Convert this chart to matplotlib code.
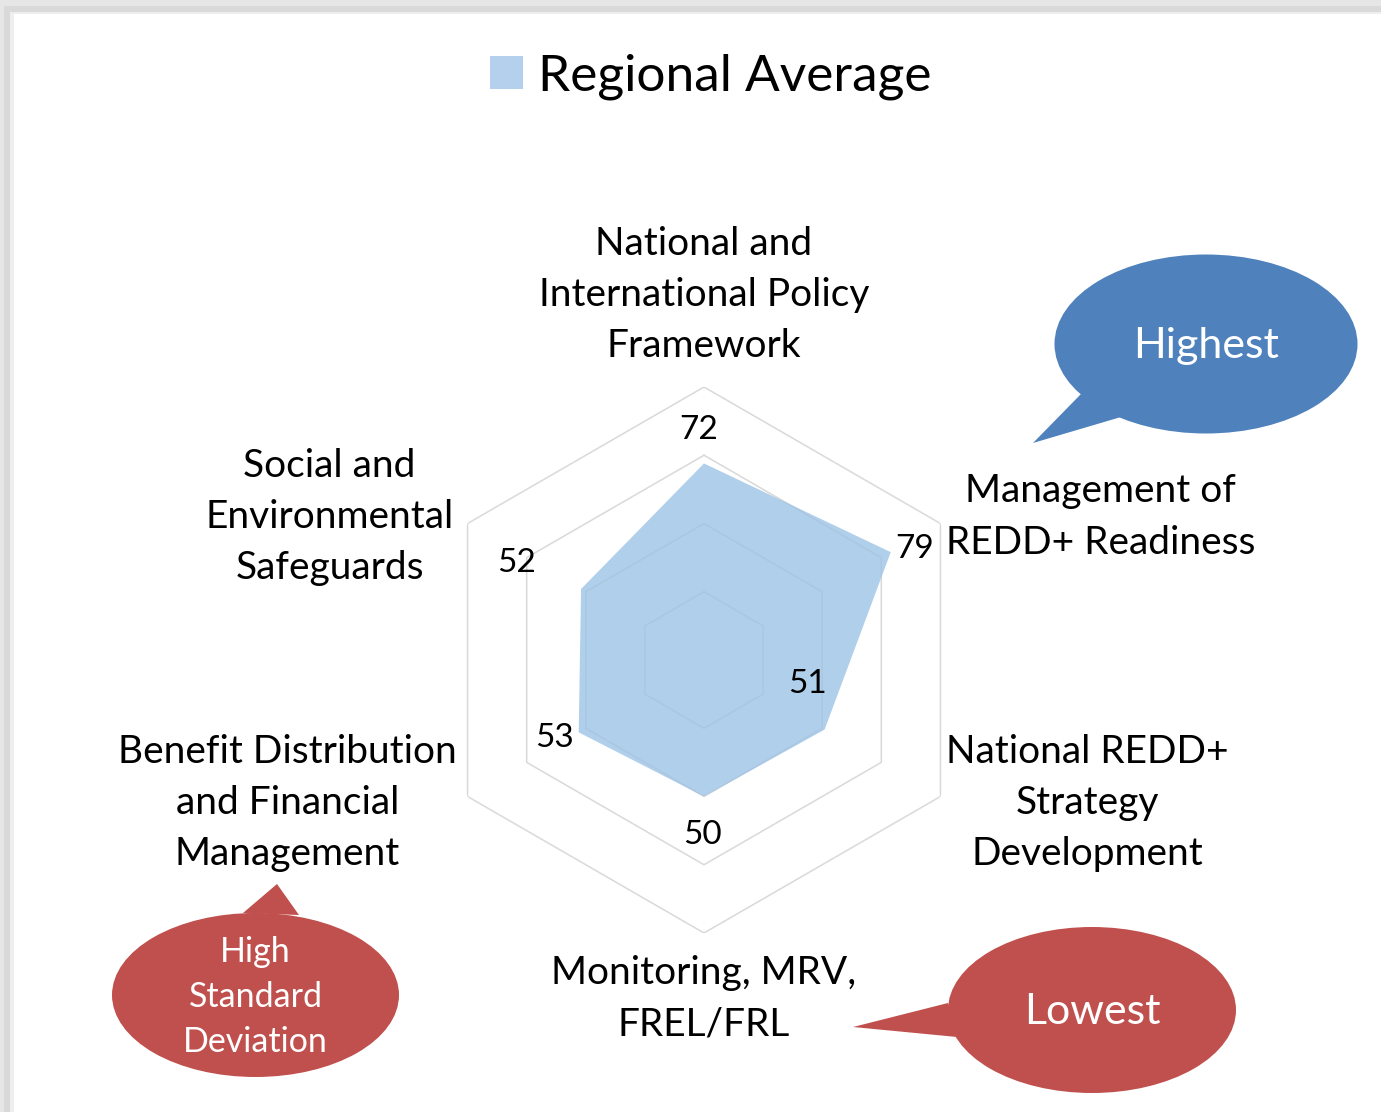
import numpy as np
import matplotlib
matplotlib.use("Agg")
import matplotlib.pyplot as plt
from matplotlib.patches import Ellipse, Polygon, Rectangle, Patch

# ---------------- data ----------------
categories = [
    "National and\nInternational Policy\nFramework",
    "Management of\nREDD+ Readiness",
    "National REDD+\nStrategy\nDevelopment",
    "Monitoring, MRV,\nFREL/FRL",
    "Benefit Distribution\nand Financial\nManagement",
    "Social and\nEnvironmental\nSafeguards",
]
regional_average = [72, 79, 51, 50, 53, 52]
grid_levels = [25, 50, 75, 100]
series_name = "Regional Average"
callout_texts = ["Highest", "High\nStandard\nDeviation", "Lowest"]

# ---------------- layout / style ----------------
plt.rcParams["font.family"] = ["Lato", "DejaVu Sans"]
W, H = 1381, 1112
fig = plt.figure(figsize=(W / 100, H / 100), dpi=100)

# background frame (screenshot border)
bg = fig.add_axes([0, 0, 1, 1], zorder=0)
bg.set_xlim(0, W)
bg.set_ylim(H, 0)
bg.axis("off")
bg.add_patch(Rectangle((0, 0), W, H, color="#e6e6e6", lw=0))
bg.add_patch(Rectangle((4, 6), W, H, color="#d9d9d9", lw=0))
bg.add_patch(Rectangle((10, 12), W, H, color="#eeeeee", lw=0))
bg.add_patch(Rectangle((14, 14), W, H, color="white", lw=0))

# radar axes
cx, cy, R = 704, 660, 273
ax = fig.add_axes([(cx - R) / W, (H - cy - R) / H, 2 * R / W, 2 * R / H],
                  projection="polar", zorder=1)
ax.set_theta_offset(np.pi / 2)
ax.set_theta_direction(-1)
ax.set_ylim(0, 100)
ax.grid(False)
ax.set_xticks([])
ax.set_yticks([])
ax.spines["polar"].set_visible(False)
ax.patch.set_alpha(0)

n = len(regional_average)
theta = np.linspace(0, 2 * np.pi, n, endpoint=False)
theta_c = np.append(theta, theta[0])
for lv in grid_levels:
    ax.plot(theta_c, [lv] * (n + 1), color="#d9d9d9", lw=1.1, zorder=1)

vals = regional_average + regional_average[:1]
ax.fill(theta_c, vals, color="#9DC3E6", alpha=0.8, lw=0, zorder=2)

# data labels
label_offsets = [(-5, 33), (24, 3), (-17, 46), (-2, -39), (-24, -6), (-64, 26)]
for t, v, off in zip(theta, regional_average, label_offsets):
    ax.annotate(str(v), xy=(t, v), xytext=off, textcoords="offset pixels",
                ha="center", va="center", fontsize=24, color="black",
                annotation_clip=False, zorder=5)

# category labels
cat_offsets = [(0, 92), (160, 6.5), (147, -6.5), (0, -66), (-180, -6.5), (-138, 6.5)]
for t, cat, off in zip(theta, categories, cat_offsets):
    ax.annotate(cat, xy=(t, 100), xytext=off, textcoords="offset pixels",
                ha="center", va="center", fontsize=28, color="black",
                linespacing=1.52, annotation_clip=False, zorder=5)

# legend
fig.legend(handles=[Patch(facecolor="#B4D0EC", edgecolor="none", label=series_name)],
           loc="center", bbox_to_anchor=(711 / W, 1 - 77 / H), frameon=False,
           fontsize=37, handlelength=0.63, handleheight=0.63, handletextpad=0.3,
           borderpad=0, borderaxespad=0)

# callouts
ov = fig.add_axes([0, 0, 1, 1], zorder=3)
ov.set_xlim(0, W)
ov.set_ylim(H, 0)
ov.axis("off")
ov.patch.set_alpha(0)

blue, red = "#4F81BD", "#C0504D"
callouts = [
    dict(c=(1206, 344), w=303, h=179, tail=[(1081, 394), (1033, 443), (1121, 417)],
         color=blue, fs=31, ls=1.2),
    dict(c=(255.5, 995), w=287, h=164, tail=[(243, 913), (277, 884), (299, 915)],
         color=red, fs=24.5, ls=1.49),
    dict(c=(1092, 1010), w=288, h=166, tail=[(948, 1003), (853, 1027), (957, 1037)],
         color=red, fs=31, ls=1.2),
]
for co, txt in zip(callouts, callout_texts):
    ov.add_patch(Ellipse(co["c"], co["w"], co["h"], facecolor=co["color"], lw=0))
    ov.add_patch(Polygon(co["tail"], closed=True, facecolor=co["color"], lw=0))
    ov.text(co["c"][0], co["c"][1] + 2, txt, ha="center", va="center",
            color="white", fontsize=co["fs"], linespacing=co["ls"])

fig.savefig("out.png", dpi=100)
